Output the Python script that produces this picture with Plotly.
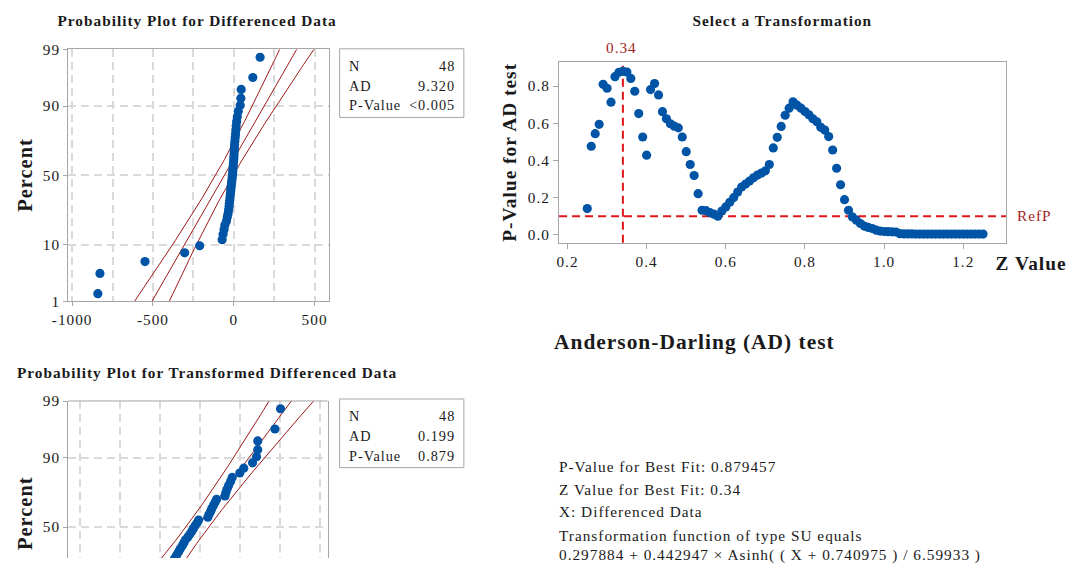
import math
from statistics import NormalDist, mean, stdev
import plotly.graph_objects as go

# ---------------- data ----------------
diff_data = [-841, -828, -549, -304, -211, -72, -66, -60, -55, -45,
             -40, -35, -32, -29, -27, -25, -23, -21, -19, -17,
             -15, -13, -11, -9, -7, -6, -5, -3, -2, 0,
             1, 2, 3, 4, 5, 7, 9, 11, 13, 15,
             18, 22, 28, 40, 44, 46, 118, 163]

trans_data = [-2.16, -2.15, -1.97, -1.71, -1.54, -1.07, -1.03, -0.98, -0.94, -0.87,
              -0.80, -0.74, -0.68, -0.63, -0.58, -0.53, -0.49, -0.44, -0.40, -0.36,
              -0.30, -0.25, -0.20, -0.16, -0.12, -0.07, -0.03, 0.20, 0.23, 0.27,
              0.30, 0.34, 0.38, 0.42, 0.63, 0.65, 0.68, 0.72, 0.77, 0.81,
              1.00, 1.10, 1.32, 1.42, 1.45, 1.45, 1.88, 2.02]

pct_ticks = [1, 10, 50, 90, 99]
diff_xticks = [-1000, -500, 0, 500]
diff_xtick_text = ["-1000", "-500", "0", "500"]
trans_xgrid = [-3, -2, -1, 0, 1, 2, 3]

z_values = [0.25, 0.26, 0.27, 0.28, 0.29, 0.30, 0.31, 0.32, 0.33, 0.34,
            0.35, 0.36, 0.37, 0.38, 0.39, 0.40, 0.41, 0.42, 0.43, 0.44,
            0.45, 0.46, 0.47, 0.48, 0.49, 0.50, 0.51, 0.52, 0.53, 0.54,
            0.55, 0.56, 0.57, 0.58, 0.59, 0.60, 0.61, 0.62, 0.63, 0.64,
            0.65, 0.66, 0.67, 0.68, 0.69, 0.70, 0.71, 0.72, 0.73, 0.74,
            0.75, 0.76, 0.77, 0.78, 0.79, 0.80, 0.81, 0.82, 0.83, 0.84,
            0.85, 0.86, 0.87, 0.88, 0.89, 0.90, 0.91, 0.92, 0.93, 0.94,
            0.95, 0.96, 0.97, 0.98, 0.99, 1.00, 1.01, 1.02, 1.03, 1.04,
            1.05, 1.06, 1.07, 1.08, 1.09, 1.10, 1.11, 1.12, 1.13, 1.14,
            1.15, 1.16, 1.17, 1.18, 1.19, 1.20, 1.21, 1.22, 1.23, 1.24,
            1.25]
p_values = [0.141, 0.476, 0.544, 0.594, 0.809, 0.788, 0.713, 0.850, 0.874, 0.879,
            0.875, 0.841, 0.772, 0.652, 0.526, 0.428, 0.781, 0.813, 0.752, 0.662,
            0.624, 0.597, 0.584, 0.575, 0.526, 0.447, 0.378, 0.319, 0.221, 0.132,
            0.130, 0.119, 0.111, 0.100, 0.128, 0.150, 0.175, 0.200, 0.230, 0.257,
            0.273, 0.289, 0.307, 0.321, 0.332, 0.344, 0.378, 0.467, 0.524, 0.583,
            0.643, 0.681, 0.715, 0.697, 0.681, 0.663, 0.645, 0.624, 0.608, 0.578,
            0.563, 0.528, 0.456, 0.358, 0.269, 0.189, 0.132, 0.096, 0.079, 0.061,
            0.047, 0.040, 0.034, 0.025, 0.020, 0.018, 0.017, 0.016, 0.015, 0.006,
            0.005, 0.005, 0.005, 0.004, 0.004, 0.004, 0.004, 0.004, 0.004, 0.004,
            0.004, 0.004, 0.004, 0.004, 0.004, 0.004, 0.004, 0.004, 0.004, 0.004,
            0.004]
z_ticks = [0.2, 0.4, 0.6, 0.8, 1.0, 1.2]
z_tick_text = ["0.2", "0.4", "0.6", "0.8", "1.0", "1.2"]
p_ticks = [0.0, 0.2, 0.4, 0.6, 0.8]
p_tick_text = ["0.0", "0.2", "0.4", "0.6", "0.8"]
best_z = 0.34
ref_p = 0.10

stats_top = [("N", "48"), ("AD", "9.320"), ("P-Value", "<0.005")]
stats_bottom = [("N", "48"), ("AD", "0.199"), ("P-Value", "0.879")]
summary_lines = ["P-Value for Best Fit: 0.879457",
                 "Z Value for Best Fit: 0.34",
                 "X: Differenced Data",
                 "Transformation function of type SU equals",
                 "0.297884 + 0.442947 × Asinh( ( X + 0.740975 ) / 6.59933 )"]

# ---------------- style ----------------
FONT = "Liberation Serif"
BLUE = "#0054A6"
DARKRED = "#A31F1F"
BANDRED = "#9E1A1A"
RED = "#E0161B"
FRAME = "#A6A6A6"
GRID = "#DADADA"
W, H = 1070, 566
nd = NormalDist()

# the photographed page shows the figure slightly inset and scaled;
# target positions below are in picture pixels and are mapped back here
OX, SX = 14.0, 0.985
OY, SY = 6.0, 0.975
K = 1.0 / ((SX + SY) / 2)   # size compensation


def px(x):
    return ((x - OX) / SX) / W


def py(y):
    return 1 - ((y - OY) / SY) / H


def fs(s):
    return round(s * K, 2)


fig = go.Figure()


def prob_panel(values, xa, ya):
    n = len(values)
    srt = sorted(values)
    q = [nd.inv_cdf((i + 1 - 0.3) / (n + 0.4)) for i in range(n)]
    mu, s = mean(srt), stdev(srt)
    zs = [-3.2 + 0.05 * k for k in range(129)]
    center = [mu + z * s for z in zs]
    half = [1.96 * s * math.sqrt(1.0 / n + z * z / (2.0 * (n - 1))) for z in zs]
    for xs in ([c - h for c, h in zip(center, half)], center,
               [c + h for c, h in zip(center, half)]):
        fig.add_trace(go.Scatter(x=xs, y=zs, mode="lines", xaxis=xa, yaxis=ya,
                                 line=dict(color=BANDRED, width=1), hoverinfo="skip"))
    fig.add_trace(go.Scatter(x=srt, y=q, mode="markers", xaxis=xa, yaxis=ya,
                             marker=dict(color=BLUE, size=fs(9), line=dict(width=0))))


prob_panel(diff_data, "x", "y")
fig.add_trace(go.Scatter(x=z_values, y=p_values, mode="markers", xaxis="x2", yaxis="y2",
                         marker=dict(color=BLUE, size=fs(9), line=dict(width=0))))
prob_panel(trans_data, "x3", "y3")

pz = [nd.inv_cdf(p / 100) for p in pct_ticks]
tickfont = dict(family=FONT, size=fs(15), color="#1a1a1a")
grid = dict(showgrid=True, gridcolor=GRID, gridwidth=1.5, griddash="8px,5px")

# bottom panel: only its upper part is visible; keep 54.45 px per z unit
z_top3 = pz[-1] + 0.002
y_bottom_pic = OY + SY * H
z_bot3 = z_top3 - (y_bottom_pic - 400) / 54.45

fig.update_layout(
    width=W, height=H, autosize=False,
    margin=dict(l=0, r=0, t=0, b=0),
    paper_bgcolor="white", plot_bgcolor="white",
    showlegend=False,
    font=dict(family=FONT, color="#1a1a1a"),
    xaxis=dict(domain=[px(68), px(328)], range=[-1025, 587], anchor="y",
               tickmode="array", tickvals=diff_xticks, ticktext=diff_xtick_text,
               minor=dict(dtick=250, tick0=0, showgrid=True, gridcolor=GRID, gridwidth=1.5,
                          griddash="8px,5px", ticks=""),
               showline=True, mirror=True, linecolor=FRAME, linewidth=1,
               ticks="outside", ticklen=4, tickcolor=FRAME, tickfont=tickfont,
               zeroline=False, **grid),
    yaxis=dict(domain=[py(300), py(46.7)], range=[pz[0] - 0.002, pz[-1] + 0.002], anchor="x",
               tickmode="array", tickvals=pz, ticktext=[str(p) for p in pct_ticks],
               showline=True, mirror=True, linecolor=FRAME, linewidth=1,
               ticks="outside", ticklen=4, tickcolor=FRAME, tickfont=tickfont,
               zeroline=False, **grid),
    xaxis2=dict(domain=[px(558), px(1004)], range=[0.1787, 1.3078], anchor="y2",
                tickmode="array", tickvals=z_ticks, ticktext=z_tick_text,
                showgrid=False, zeroline=False,
                showline=True, mirror=True, linecolor=FRAME, linewidth=1,
                ticks="outside", ticklen=5, tickcolor=FRAME, tickfont=tickfont),
    yaxis2=dict(domain=[py(241), py(59.3)], range=[-0.0428, 0.929], anchor="x2",
                tickmode="array", tickvals=p_ticks, ticktext=p_tick_text,
                showgrid=False, zeroline=False,
                showline=True, mirror=True, linecolor=FRAME, linewidth=1,
                ticks="outside", ticklen=5, tickcolor=FRAME, tickfont=tickfont),
    xaxis3=dict(domain=[px(68), px(327)], range=[-3.30, 3.20], anchor="y3",
                tickmode="array", tickvals=trans_xgrid, showticklabels=False,
                ticks="", showline=False, zeroline=False, **grid),
    yaxis3=dict(domain=[0, py(400)], range=[z_bot3, z_top3],
                anchor="x3",
                tickmode="array", tickvals=pz, ticktext=[str(p) for p in pct_ticks],
                showline=True, mirror=True, linecolor=FRAME, linewidth=1,
                ticks="outside", ticklen=4, tickcolor=FRAME, tickfont=tickfont,
                zeroline=False, **grid),
)

shapes = [
    dict(type="line", xref="x2", yref="y2 domain", x0=best_z, x1=best_z, y0=0, y1=1,
         line=dict(color=RED, width=2, dash="8px,5px"), layer="below"),
    dict(type="line", xref="x2 domain", yref="y2", x0=0, x1=1, y0=ref_p, y1=ref_p,
         line=dict(color=RED, width=2, dash="8px,5px"), layer="below"),
    dict(type="line", xref="paper", yref="paper", x0=px(68), x1=px(327), y0=py(400), y1=py(400),
         line=dict(color=FRAME, width=1)),
    dict(type="rect", xref="paper", yref="paper", x0=px(339), x1=px(463), y0=py(115), y1=py(46),
         line=dict(color=FRAME, width=1)),
    dict(type="rect", xref="paper", yref="paper", x0=px(339), x1=px(463), y0=py(467), y1=py(398),
         line=dict(color=FRAME, width=1)),
]
fig.update_layout(shapes=shapes)

ann = []


def text(x, y, t, size=15, bold=False, color="#1a1a1a", xanchor="center", angle=0):
    align = {"left": "left", "right": "right"}.get(xanchor, "center")
    ann.append(dict(x=px(x), y=py(y), xref="paper", yref="paper", showarrow=False,
                    text=f"<b>{t}</b>" if bold else t, textangle=angle,
                    xanchor=xanchor, yanchor="middle", align=align,
                    font=dict(family=FONT, size=fs(size), color=color)))


text(197, 18, "Probability Plot for Differenced Data", 15, True)
text(781, 18, "Select a Transformation", 15, True)
text(14.5, 371, "Probability Plot for Transformed Differenced Data", 15, True, xanchor="left")
text(694, 341, "Anderson-Darling (AD) test", 21, True)
text(25, 173, "Percent", 20, True, angle=-90)
text(25, 513, "Percent", 20, True, angle=-90)
text(508, 150, "P-Value for AD test", 19, True, angle=-90)
text(1029, 262, "Z Value", 19, True)
text(620, 45, f"{best_z:.2f}", 15, color=DARKRED)
text(1013, 214, "RefP", 15, color=DARKRED, xanchor="left")

for rows, y0 in ((stats_top, 63), (stats_bottom, 415)):
    for k, (lab, val) in enumerate(rows):
        yy = y0 + 20 * k
        text(346, yy, lab, 14, xanchor="left")
        text(456, yy, val, 14, xanchor="right")

for k, line in enumerate(summary_lines):
    yy = [466, 489, 511, 535, 555][k]
    text(556, yy, line, 15, xanchor="left")

fig.update_layout(annotations=ann)

page_js = """
document.documentElement.style.margin = '0';
document.documentElement.style.overflow = 'hidden';
document.body.style.margin = '0';
document.body.style.overflow = 'hidden';
document.querySelectorAll('svg text').forEach(function (t) {
    t.style.letterSpacing = '1px';
});
"""
fig.write_html("out.html", post_script=page_js, config={"displayModeBar": False})
